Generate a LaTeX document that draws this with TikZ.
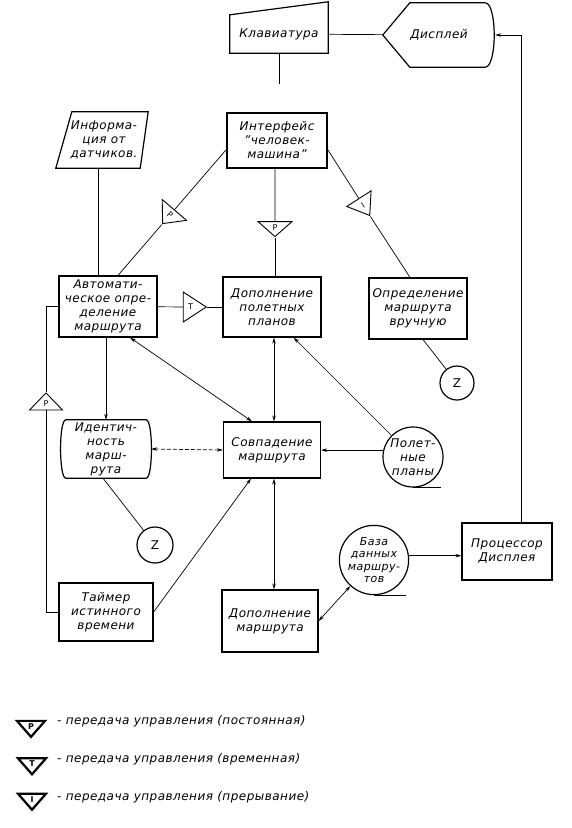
\documentclass[tikz,border=0pt]{standalone}
\usepackage{fontspec}
\usepackage{graphicx}
\setmainfont{DejaVu Sans}[LetterSpace=4]
\usetikzlibrary{arrows.meta,shapes.geometric}
\newcommand\blkfont{\fontsize{12}{14}\selectfont\itshape}
\newcommand\dbfont{\fontsize{11}{12.5}\selectfont\itshape}
\newcommand\ctrlfont{\fontsize{8}{9}\selectfont}
\newcommand\keyfont{\fontsize{12}{13}\selectfont\itshape}
\newcommand\zfont{\fontsize{12}{14}\selectfont}
\begin{document}
\begin{tikzpicture}[x=1pt,y=-1pt,>={Stealth[length=6pt,width=3.5pt]},
		blk/.style={draw,line width=1.2pt,align=center,inner sep=1pt,font=\blkfont},
		fig/.style={align=center,inner sep=1pt,font=\blkfont},
		store/.style={draw,circle,line width=1.2pt,align=center,inner sep=0pt,font=\blkfont},
		ctrl/.style={draw,line width=0.9pt,isosceles triangle,isosceles triangle stretches,inner sep=0pt,font=\ctrlfont},
		legtri/.style={ctrl,line width=2.2pt,minimum height=16,minimum width=28,rotate=-90,font=\ctrlfont\bfseries},
		keytext/.style={anchor=west,inner sep=0pt,font=\keyfont},
		conn/.style={line width=0.7pt}]
	\useasboundingbox (0,0) rectangle (572,828);
	\node[fig,minimum width=98,minimum height=38] (kbd) at (279,34) {Клавиатура};
	\draw[line width=1.2pt] (kbd.south west) -- (kbd.north west) -- ([yshift=13pt]kbd.north east) -- (kbd.south east) -- cycle;
	\node[fig,minimum width=112,minimum height=64] (disp) at (439,35) {Дисплей};
	\draw[line width=1.2pt] (disp.west) -- ([xshift=27pt]disp.north west) -- ([xshift=-10pt]disp.north east) .. controls ([xshift=2pt]disp.north east) and ([xshift=2pt]disp.south east) .. ([xshift=-10pt]disp.south east) -- ([xshift=27pt]disp.south west) -- cycle;
	\node[fig,minimum width=80,minimum height=56] (sens) at (104,140) {Информа-\\ция от\\датчиков.};
	\draw[line width=1.2pt] ([xshift=8pt]sens.north west) -- ([xshift=4pt]sens.north east) -- ([xshift=-4pt]sens.south east) -- ([xshift=-8pt]sens.south west) -- cycle;
	\node[blk,minimum width=100,minimum height=55] (iface) at (277,140.5) {Интерфейс\\"человек-\\машина"};
	\node[blk,minimum width=98,minimum height=61] (auto) at (108,306.5) {Автомати-\\ческое опре-\\деление\\маршрута};
	\node[blk,minimum width=98,minimum height=60] (plan) at (272,307) {Дополнение\\полетных\\планов};
	\node[blk,minimum width=98,minimum height=61] (manual) at (418,308.5) {Определение\\маршрута\\вручную};
	\node[store,minimum size=34,font=\zfont] (z1) at (457,383) {Z};
	\node[fig,minimum width=80,minimum height=58] (ident) at (106,449) {Идентич-\\ность\\марш-\\рута};
	\draw[line width=1.2pt] (ident.north west) .. controls ([xshift=-7pt]ident.north west) and ([xshift=-7pt]ident.south west) .. (ident.south west) -- (ident.south east) .. controls ([xshift=7pt]ident.south east) and ([xshift=7pt]ident.north east) .. (ident.north east) -- cycle;
	\node[blk,minimum width=97,minimum height=56] (match) at (272,450) {Совпадение\\маршрута};
	\node[store,minimum size=60] (fplans) at (413,457) {Полет-\\ные\\планы};
	\draw[line width=1.2pt] (fplans.south) -- ++(28,0);
	\node[store,minimum size=36,font=\zfont] (z2) at (155,545) {Z};
	\node[blk,minimum width=94,minimum height=58] (timer) at (106,612) {Таймер\\истинного\\времени};
	\node[blk,minimum width=96,minimum height=62] (mroute) at (270,621) {Дополнение\\маршрута};
	\node[store,minimum size=62,font=\dbfont] (db) at (374,560) {База\\данных\\маршру-\\тов};
	\draw[line width=1.2pt] (db.south) -- ++(32,0);
	\node[blk,minimum width=90,minimum height=57] (proc) at (507,551.5) {Процессор\\Дисплея};
	\node[ctrl,minimum height=18,minimum width=32,rotate=229.4] (tA) at (170,215) {\rotatebox{90}{P}};
	\node[ctrl,minimum height=15,minimum width=34,rotate=-90] (tP) at (275,227.5) {\rotatebox{90}{P}};
	\node[ctrl,minimum height=20,minimum width=29,rotate=-57.2] (tI) at (363,205) {\rotatebox{90}{I}};
	\node[ctrl,minimum height=23,minimum width=30] (tT) at (190.5,307) {T};
	\node[ctrl,minimum height=17,minimum width=33,rotate=90] (tLP) at (46,403.5) {\rotatebox{-90}{P}};
	\draw[conn] (kbd) -- (disp);
	\coordinate (kbdend) at (279,84);
	\draw[conn] (kbd.south) -- (kbdend);
	\draw[conn,->] ([xshift=14pt]proc.north) |- (disp.east);
	\draw[conn] ([xshift=-6pt]sens.south) -- ([xshift=-6pt]sens.south |- auto.north);
	\draw[conn] (iface.190) -- (tA);
	\draw[conn] (tA.apex) -- ([xshift=10pt]auto.north);
	\draw[conn] (tP |- iface.south) -- (tP);
	\draw[conn] (tP.apex) -- (tP.apex |- plan.north);
	\draw[conn] (iface.350) -- (tI);
	\draw[conn] (tI.apex) -- ([xshift=-8pt]manual.north);
	\draw[conn] (auto) -- (tT);
	\draw[conn] (tT.apex) -- (plan.west);
	\draw[conn] ([xshift=5pt]manual.south) -- (z1);
	\draw[conn,->] (ident.north |- auto.south) -- (ident.north);
	\draw[conn,<->] ([xshift=22pt]auto.south) -- ([xshift=-20pt]match.north);
	\draw[conn,<->] ([xshift=2pt]plan.south) -- ([xshift=2pt]plan.south |- match.north);
	\draw[conn,->] (fplans) -- ([xshift=-28pt]plan.south east);
	\draw[conn,->] (fplans.167) -- (fplans.167 -| match.east);
	\draw[conn,<->,dash pattern=on 4pt off 2pt] ([xshift=5pt]ident.east) -- (match.west);
	\draw[conn] ([xshift=-3pt]ident.south) -- (z2);
	\draw[conn,->] (timer.east) -- ([xshift=-21pt]match.south);
	\draw[conn] (timer.west) -| (tLP);
	\draw[conn] (tLP.apex) |- (auto.west);
	\draw[conn,<->] ([xshift=2pt]match.south) -- ([xshift=2pt]match.south |- mroute.north);
	\draw[conn,<->] (mroute.east) -- (db);
	\draw[conn,->] (db.7) -- (db.7 -| proc.west);
	\node[legtri] (keyP) at (31,726.5) {\rotatebox{90}{P}};
	\node[keytext] (keyPtext) at (57,721) {- передача управления (постоянная)};
	\node[legtri] (keyT) at (32,764) {\rotatebox{90}{T}};
	\node[keytext] (keyTtext) at (57,759) {- передача управления (временная)};
	\node[legtri] (keyI) at (32,800) {\rotatebox{90}{I}};
	\node[keytext] (keyItext) at (57,797) {- передача управления (прерывание)};
\end{tikzpicture}
\end{document}
